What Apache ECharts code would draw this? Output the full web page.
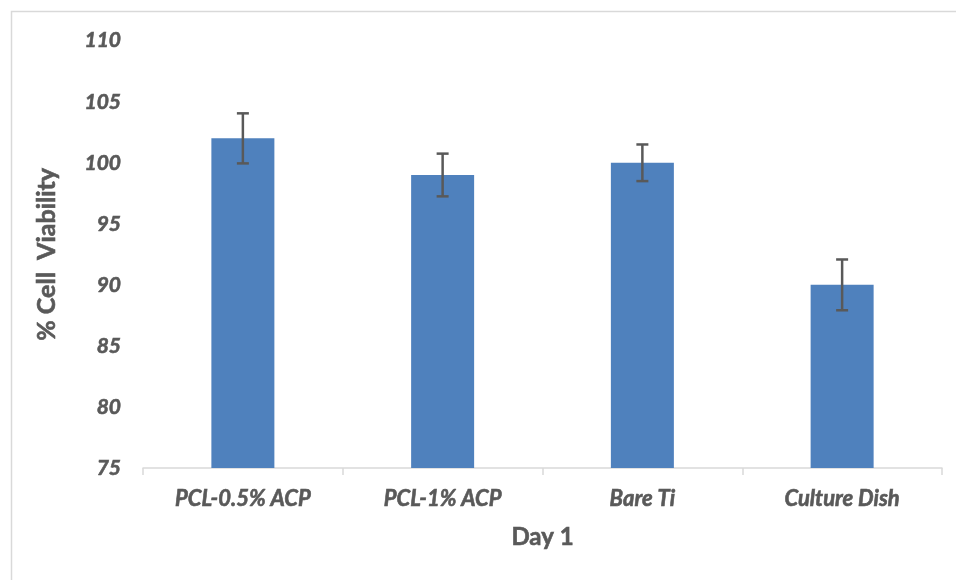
<!DOCTYPE html>
<html>
<head>
<meta charset="utf-8">
<script src="https://cdn.jsdelivr.net/npm/echarts@6/dist/echarts.min.js"></script>
<style>
html,body{margin:0;padding:0;background:#fff;}
#chart{width:956px;height:580px;}
</style>
</head>
<body>
<div id="chart"></div>
<script>
const categories = ['PCL-0.5% ACP', 'PCL-1% ACP', 'Bare Ti', 'Culture Dish'];
const viability = [102, 99, 100, 90];
const errors = [2.05, 1.75, 1.5, 2.08];
const yTicks = { min: 75, max: 110, interval: 5 };
const xTitle = 'Day 1';
const yTitle = '% Cell  Viability';

const textColor = '#595959';
const fontFam = 'Lato, "Open Sans", sans-serif';
const heavy = { textBorderColor: textColor, textBorderWidth: 0.6 };

const errData = categories.map((c, i) => [i, viability[i] - errors[i], viability[i] + errors[i]]);

const chart = echarts.init(document.getElementById('chart'));
chart.setOption({
  animation: false,
  backgroundColor: '#ffffff',
  graphic: [{
    type: 'rect',
    shape: { x: 11.5, y: 11.5, width: 1200, height: 1200 },
    style: { fill: 'none', stroke: '#d9d9d9', lineWidth: 1.5 },
    silent: true
  }],
  grid: { left: 143, right: 14, top: 40.7, bottom: 112, containLabel: false },
  xAxis: {
    type: 'category',
    data: categories,
    name: xTitle,
    nameLocation: 'middle',
    nameGap: 57,
    nameTextStyle: Object.assign({ color: textColor, fontFamily: fontFam, fontWeight: 'bold', fontSize: 24 }, heavy),
    axisLine: { lineStyle: { color: '#d9d9d9', width: 1.5 } },
    axisTick: { show: true, length: 7, lineStyle: { color: '#d9d9d9', width: 1.5 } },
    axisLabel: Object.assign({ color: textColor, fontFamily: fontFam, fontWeight: 'bold', fontStyle: 'italic', fontSize: 22, margin: 20 }, heavy)
  },
  yAxis: {
    type: 'value',
    min: yTicks.min, max: yTicks.max, interval: yTicks.interval,
    name: yTitle,
    nameLocation: 'middle',
    nameGap: 84,
    nameTextStyle: Object.assign({ color: textColor, fontFamily: fontFam, fontWeight: 'bold', fontSize: 25 }, heavy),
    axisLine: { show: false },
    axisTick: { show: false },
    splitLine: { show: false },
    axisLabel: Object.assign({ color: textColor, fontFamily: fontFam, fontWeight: 'bold', fontStyle: 'italic', fontSize: 21, margin: 22 }, heavy)
  },
  series: [{
    type: 'bar',
    data: viability,
    barWidth: 63,
    itemStyle: { color: '#4f81bd' }
  }, {
    type: 'custom',
    data: errData,
    z: 10,
    renderItem: function (params, api) {
      const x = api.value(0);
      const lo = api.coord([x, api.value(1)]);
      const hi = api.coord([x, api.value(2)]);
      const half = 6;
      const st = { stroke: '#595959', lineWidth: 2.5 };
      return {
        type: 'group',
        children: [
          { type: 'line', shape: { x1: hi[0], y1: hi[1], x2: lo[0], y2: lo[1] }, style: st },
          { type: 'line', shape: { x1: hi[0] - half, y1: hi[1], x2: hi[0] + half, y2: hi[1] }, style: st },
          { type: 'line', shape: { x1: lo[0] - half, y1: lo[1], x2: lo[0] + half, y2: lo[1] }, style: st }
        ]
      };
    }
  }]
});
</script>
</body>
</html>
